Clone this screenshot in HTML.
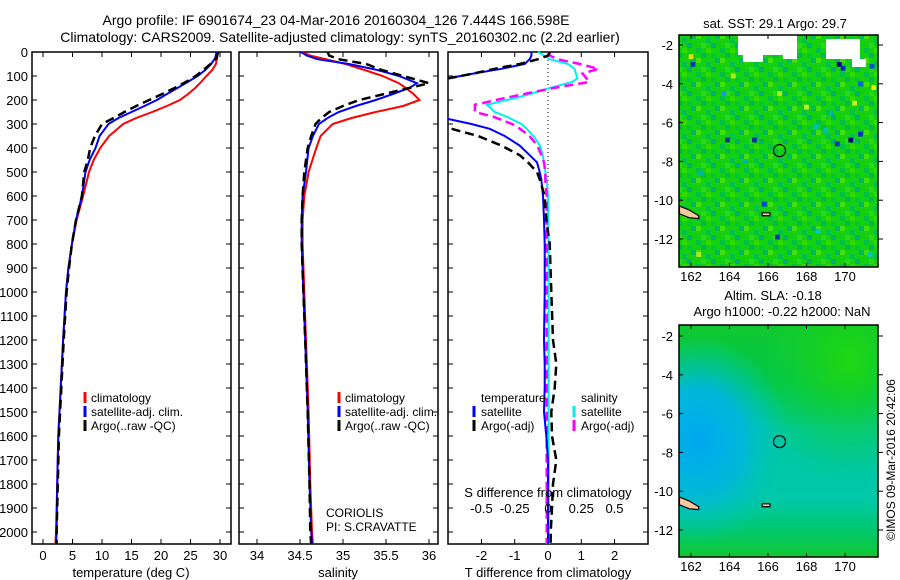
<!DOCTYPE html>
<html><head><meta charset="utf-8"><style>
body{margin:0;background:#fff;}
svg{display:block;font-family:"Liberation Sans",Arial,sans-serif;}
</style></head><body>
<svg id="chart" width="900" height="580" viewBox="0 0 900 580" xmlns="http://www.w3.org/2000/svg">
<defs>
<pattern id="sstTex" width="24" height="24" patternUnits="userSpaceOnUse">
<rect width="24" height="24" fill="#14d010"/>
<rect x="0" y="0" width="5" height="5" fill="#00c040"/><rect x="10" y="0" width="5" height="5" fill="#30dc00"/>
<rect x="5" y="5" width="5" height="5" fill="#00b858"/><rect x="15" y="5" width="5" height="5" fill="#00c838"/>
<rect x="0" y="10" width="5" height="5" fill="#40e010"/><rect x="19" y="10" width="5" height="5" fill="#00b860"/>
<rect x="10" y="14" width="5" height="5" fill="#00c048"/><rect x="5" y="19" width="5" height="5" fill="#28d818"/>
<rect x="15" y="19" width="5" height="5" fill="#00b070"/>
</pattern>
<linearGradient id="slaBand" x1="0" y1="0" x2="0" y2="1">
<stop offset="0" stop-color="#10c830"/><stop offset="0.25" stop-color="#00c850"/><stop offset="0.45" stop-color="#00c8a0"/><stop offset="0.75" stop-color="#00c8a8"/><stop offset="0.88" stop-color="#00c870"/><stop offset="1" stop-color="#10c830"/>
</linearGradient>
<radialGradient id="slaBlue" cx="0.1" cy="0.5" r="0.45">
<stop offset="0" stop-color="#00a8f0"/><stop offset="0.5" stop-color="#00b8d8"/><stop offset="1" stop-color="#00c8b0" stop-opacity="0"/>
</radialGradient>
<radialGradient id="slaGreen" cx="0.85" cy="0.15" r="0.5">
<stop offset="0" stop-color="#20d810"/><stop offset="1" stop-color="#10c830" stop-opacity="0"/>
</radialGradient>
<clipPath id="clipT"><rect x="32" y="44" width="199" height="500"/></clipPath>
<clipPath id="clipS"><rect x="239" y="44" width="199" height="500"/></clipPath>
<clipPath id="clipD"><rect x="448" y="44" width="200" height="500"/></clipPath>
<clipPath id="clipM1"><rect x="679" y="35" width="199" height="232"/></clipPath>
<clipPath id="clipM2"><rect x="679" y="325" width="199" height="232"/></clipPath>
</defs>
<text x="336" y="25" font-size="14" text-anchor="middle">Argo profile: IF 6901674_23 04-Mar-2016 20160304_126 7.444S 166.598E</text>
<text x="340" y="42" font-size="14" text-anchor="middle">Climatology: CARS2009. Satellite-adjusted climatology: synTS_20160302.nc (2.2d earlier)</text>
<g id="panels"></g>
<g id="maps"></g>
</svg>
<script>
// ---- profile data ----
const tDepths=[0,25,50,75,100,125,150,175,200,225,250,275,300,350,400,450,500,600,700,800,900,1000,1200,1400,1600,1800,2000,2050];
const tClim=[29.6,29.5,29.3,28.7,27.7,26.8,25.8,24.6,23.2,21.0,18.5,15.8,13.6,11.2,9.7,8.6,7.8,6.8,5.7,4.9,4.3,3.9,3.4,3.0,2.6,2.4,2.2,2.1];
const tSat=[29.4,29.2,28.5,27.5,26.2,24.5,22.8,21.0,19.3,17.2,15.0,12.8,11.1,9.6,8.9,7.9,7.2,6.6,5.6,4.9,4.3,3.9,3.4,3.0,2.6,2.4,2.3,2.2];
const tArgo=[29.7,29.4,28.4,27.2,25.9,24.2,22.3,20.2,18.0,15.8,13.8,12.0,10.0,8.8,8.0,7.6,7.0,6.6,5.6,4.9,4.4,4.0,3.5,3.1,2.7,2.5,2.3,2.3];
const sDepths=[0,15,30,50,75,100,130,150,175,200,225,250,275,300,350,400,500,600,700,800,1000,1200,1500,1800,2000,2050];
const sClim=[34.52,34.62,34.8,35.03,35.25,35.46,35.65,35.73,35.82,35.89,35.7,35.38,35.1,34.88,34.74,34.69,34.6,34.55,34.53,34.53,34.55,34.57,34.6,34.62,34.64,34.65];
const sSat=[34.51,34.58,34.7,35.07,35.4,35.65,35.86,35.77,35.58,35.38,35.15,34.95,34.82,34.72,34.65,34.6,34.57,34.53,34.52,34.52,34.54,34.56,34.59,34.61,34.63,34.64];
const sArgo=[34.82,34.84,34.95,35.27,35.45,35.7,36.0,35.77,35.48,35.19,35.0,34.84,34.75,34.68,34.63,34.59,34.55,34.53,34.52,34.52,34.54,34.56,34.59,34.61,34.62,34.63];
const dDepths=[0,15,30,50,70,90,110,125,150,190,220,250,270,300,320,350,390,430,460,500,530,600,700,800,1000,1200,1300,1400,1500,1600,1700,1800,1900,2000,2050];
const dTSat=[-0.5,-0.5,-0.55,-0.7,-1.4,-2.25,-3.0,-3.5,-3.5,-3.5,-3.5,-3.5,-3.3,-2.3,-1.75,-1.3,-0.85,-0.55,-0.33,-0.25,-0.2,-0.15,-0.12,-0.1,-0.1,-0.12,-0.1,-0.1,-0.12,-0.05,0,0,0,0,0];
const dTArgo=[0.06,0.0,-0.3,-0.85,-1.6,-2.25,-3.0,-3.5,-3.5,-3.5,-3.5,-3.5,-3.5,-3.2,-2.9,-2.1,-1.4,-0.85,-0.6,-0.33,-0.25,-0.1,-0.05,0.05,0.1,0.15,0.25,0.2,0.1,0.12,0.25,0.15,0.12,0.08,0.08];
const dSSat=[-0.075,-0.03,0.015,0.15,0.2,0.21,0.22,0.18,0.015,-0.23,-0.46,-0.4,-0.31,-0.2,-0.16,-0.11,-0.06,-0.04,-0.03,-0.02,-0.01,0,0,0.005,0.005,0.005,0.005,0.005,0.005,0.005,0.005,0.005,0.005,0.005,0.005];
const dSArgo=[0.0,0.015,0.07,0.24,0.38,0.26,0.29,0.31,0.04,-0.31,-0.55,-0.55,-0.41,-0.27,-0.21,-0.14,-0.08,-0.05,-0.03,-0.02,-0.02,-0.01,-0.01,-0.01,-0.01,-0.01,-0.01,-0.01,-0.01,-0.01,-0.01,-0.01,-0.01,-0.01,-0.01];
const depthTicks=[0,100,200,300,400,500,600,700,800,900,1000,1100,1200,1300,1400,1500,1600,1700,1800,1900,2000];
const tTicks=[0,5,10,15,20,25,30];
const sTicks=[34,34.5,35,35.5,36];
const dTTicks=[-2,-1,0,1,2];
const dSTicks=[-0.5,-0.25,0,0.25,0.5];
const sSTLabels=["-0.5","-0.25","0","0.25","0.5"];
// ---- map data ----
const lonTicks=[162,164,166,168,170];
const latTicks=[-2,-4,-6,-8,-10,-12];
const argoLon=166.598, argoLat=-7.444;
const sstSpots=[[169.7,-3.0,"#000080"],[169.9,-3.2,"#0030c0"],[170.8,-4.0,"#0060e0"],[171.4,-3.1,"#0050e0"],[170.3,-6.9,"#000080"],[170.8,-6.6,"#0030c0"],[163.9,-6.9,"#0030a0"],[165.3,-6.9,"#0030a0"],[162.1,-3.0,"#0030c0"],[163.7,-4.5,"#2090f0"],[169.6,-7.1,"#0030c0"],[165.8,-10.2,"#0040d0"],[166.5,-11.9,"#0030b0"],[162.0,-2.6,"#e0e000"],[170.5,-5.0,"#c8f020"],[171.5,-4.2,"#e0f000"],[164.2,-3.6,"#b0e820"],[166.6,-4.5,"#b0e820"],[168.0,-5.2,"#c0f020"],[162.4,-12.8,"#b0e820"],[171.3,-12.8,"#00c8c0"],[168.6,-11.6,"#00c8c0"],[169.3,-5.5,"#00b8a0"],[168.5,-6.2,"#00c0b0"],[169.0,-6.4,"#00c0b0"],[162.5,-8.6,"#00b8a0"],[164.8,-8.0,"#00b8a0"]];
const islands=[[[161.4,-10.3],[161.9,-10.5],[162.4,-10.8],[162.4,-10.95],[161.9,-10.9],[161.4,-10.7]],[[165.7,-10.65],[166.1,-10.65],[166.1,-10.8],[165.7,-10.8]]];

const NS="http://www.w3.org/2000/svg";
function mk(tag,attrs,parent){const e=document.createElementNS(NS,tag);for(const k in attrs)e.setAttribute(k,attrs[k]);parent.appendChild(e);return e;}
const yD=d=>52+d*0.24;
const xT=v=>43+v*5.9;
const xS=v=>257+(v-34)*86;
const xDT=v=>548+v*33.3;
const xDS=v=>548+v*133;
const panels=document.getElementById('panels');

function box(x0,x1,name){
  const r=mk('rect',{x:x0,y:52,width:x1-x0,height:492,fill:'none',stroke:'#000','stroke-width':1.5},panels);
  
  
  depthTicks.forEach(d=>{mk('line',{x1:x0,x2:x0+5,y1:yD(d),y2:yD(d),stroke:'#000'},panels);mk('line',{x1:x1,x2:x1-5,y1:yD(d),y2:yD(d),stroke:'#000'},panels);});
}
function xticks(vals,fx,labels,name,ly){
  vals.forEach((v,i)=>{const x=fx(v);
    mk('line',{x1:x,x2:x,y1:52,y2:57,stroke:'#000'},panels);
    mk('line',{x1:x,x2:x,y1:544,y2:539,stroke:'#000'},panels);
    const t=mk('text',{x:x,y:ly,'font-size':13,'text-anchor':'middle'},panels);t.textContent=labels?labels[i]:String(v);
    
    
  });
}
function line(ds,vs,fx,color,dashed,clip,name){
  const pts=ds.map((d,i)=>fx(vs[i]).toFixed(1)+','+yD(d).toFixed(1)).join(' ');
  const p=mk('polyline',{points:pts,fill:'none',stroke:color,'stroke-width':dashed?2.5:2,'clip-path':'url(#'+clip+')'},panels);
  if(dashed)p.setAttribute('stroke-dasharray','9,5');
  
  
}
function txt(x,y,s,name,anchor,size){const t=mk('text',{x:x,y:y,'font-size':size||13,'text-anchor':anchor||'start'},panels);t.textContent=s;
  
  return t;}
function legMark(x,y,color){const l=mk('line',{x1:x,x2:x,y1:y-10,y2:y+1,stroke:color,'stroke-width':3},panels);
  
  }

// panel 1
box(32,231,'temperature-panel');
depthTicks.forEach(d=>{txt(28,yD(d)+5,String(d),'depth-tick-label','end');});
xticks(tTicks,xT,null,'temperature-tick-label',560);
txt(131,577,'temperature (deg C)','temperature-axis-title','middle');
line(tDepths,tClim,xT,'#ff0000',false,'clipT','temperature-climatology-line');
line(tDepths,tSat,xT,'#0000ff',false,'clipT','temperature-satellite-line');
line(tDepths,tArgo,xT,'#000000',true,'clipT','temperature-argo-line');
[['#ff0000','climatology'],['#0000ff','satellite-adj. clim.'],['#000000','Argo(..raw -QC)']].forEach((e,i)=>{legMark(85,402+i*14,e[0]);txt(91,402+i*14,e[1],'temperature-legend-entry','start',12);});

// panel 2
box(239,438,'salinity-panel');
xticks(sTicks,xS,null,'salinity-tick-label',560);
txt(338,577,'salinity','salinity-axis-title','middle');
line(sDepths,sClim,xS,'#ff0000',false,'clipS','salinity-climatology-line');
line(sDepths,sSat,xS,'#0000ff',false,'clipS','salinity-satellite-line');
line(sDepths,sArgo,xS,'#000000',true,'clipS','salinity-argo-line');
[['#ff0000','climatology'],['#0000ff','satellite-adj. clim.'],['#000000','Argo(..raw -QC)']].forEach((e,i)=>{legMark(339,402+i*14,e[0]);txt(345,402+i*14,e[1],'salinity-legend-entry','start',12);});
txt(326,517,'CORIOLIS','data-centre-label','start',12);
txt(326,531,'PI: S.CRAVATTE','pi-label','start',12);

// panel 3
box(448,648,'difference-panel');
mk('line',{x1:548,x2:548,y1:52,y2:544,stroke:'#000','stroke-dasharray':'1,3'},panels);
xticks(dTTicks,xDT,null,'t-difference-tick-label',560);
line(dDepths,dSSat,xDS,'#00f0f0',false,'clipD','salinity-diff-satellite-line');
line(dDepths,dSArgo,xDS,'#ff00ff',true,'clipD','salinity-diff-argo-line');
line(dDepths,dTSat,xDT,'#0000ff',false,'clipD','temperature-diff-satellite-line');
line(dDepths,dTArgo,xDT,'#000000',true,'clipD','temperature-diff-argo-line');
dSTicks.forEach((v,i)=>{txt(xDS(v),513,sSTLabels[i],'s-difference-tick-label','middle');});
txt(548,497,'S difference from climatology','s-difference-axis-title','middle');
txt(548,577,'T difference from climatology','t-difference-axis-title','middle');
txt(481,402,'temperature','diff-legend-temperature-header','start',12);
txt(581,402,'salinity','diff-legend-salinity-header','start',12);
legMark(474,416,'#0000ff');txt(481,416,'satellite','diff-legend-entry','start',12);
legMark(474,430,'#000000');txt(481,430,'Argo(-adj)','diff-legend-entry','start',12);
legMark(574,416,'#00f0f0');txt(581,416,'satellite','diff-legend-entry','start',12);
legMark(574,430,'#ff00ff');txt(581,430,'Argo(-adj)','diff-legend-entry','start',12);

// ---- maps ----
const maps=document.getElementById('maps');
const mx=lon=>691+(lon-162)*19.25;
function mapFrame(clip,name){
  const g=mk('g',{'clip-path':'url(#'+clip+')'},maps);
  
  
  return g;
}
function mapAxes(top,latY,lonLabY,pfx){
  mk('rect',{x:679,y:top,width:199,height:232,fill:'none',stroke:'#000','stroke-width':1.5},maps);
  lonTicks.forEach(l=>{const x=mx(l);mk('line',{x1:x,x2:x,y1:top,y2:top+4,stroke:'#000'},maps);mk('line',{x1:x,x2:x,y1:top+232,y2:top+228,stroke:'#000'},maps);
    const t=mk('text',{x:x,y:lonLabY,'font-size':13,'text-anchor':'middle'},maps);t.textContent=String(l);
    
    });
  latTicks.forEach(l=>{const y=latY(l);mk('line',{x1:679,x2:683,y1:y,y2:y,stroke:'#000'},maps);mk('line',{x1:878,x2:883,y1:y,y2:y,stroke:'#000'},maps);
    const t=mk('text',{x:673,y:y+5,'font-size':13,'text-anchor':'end'},maps);t.textContent=String(l);
    
    });
}
function drawIslands(g,latY){
  islands.forEach(poly=>{const p=mk('polygon',{points:poly.map(q=>mx(q[0])+','+latY(q[1])).join(' '),fill:'#f8c8a0',stroke:'#000','stroke-width':1.2},g);
    
    });
}
function argoMarker(g,latY){const c=mk('circle',{cx:mx(argoLon),cy:latY(argoLat),r:6,fill:'none',stroke:'#000','stroke-width':1.2},g);
  
  }

// map 1 SST
const lat1=l=>45+(-2-l)*19.4;
const g1=mapFrame('clipM1','sst-map');
mk('rect',{x:679,y:35,width:199,height:232,fill:'url(#sstTex)'},g1);
sstSpots.forEach(s=>{const r=mk('rect',{x:mx(s[0])-2.4,y:lat1(s[1])-2.4,width:4.8,height:4.8,fill:s[2]},g1);
  
  });
mk('rect',{x:738,y:35,width:47,height:20,fill:'#fff'},g1);
mk('rect',{x:743,y:55,width:20,height:7,fill:'#fff'},g1);
mk('rect',{x:783,y:35,width:14,height:24,fill:'#fff'},g1);
mk('rect',{x:826,y:39,width:34,height:20,fill:'#fff'},g1);
mk('rect',{x:852,y:59,width:14,height:8,fill:'#fff'},g1);
drawIslands(g1,lat1);argoMarker(g1,lat1);
mapAxes(35,lat1,281,'sst-map');
let t=mk('text',{x:775,y:28,'font-size':13,'text-anchor':'middle'},maps);t.textContent='sat. SST: 29.1  Argo: 29.7';



// map 2 SLA
const lat2=l=>336+(-2-l)*19.4;
const g2=mapFrame('clipM2','sla-map');
mk('rect',{x:679,y:325,width:199,height:232,fill:'url(#slaBand)'},g2);
mk('rect',{x:679,y:325,width:199,height:232,fill:'url(#slaGreen)'},g2);
mk('rect',{x:679,y:325,width:199,height:232,fill:'url(#slaBlue)'},g2);
drawIslands(g2,lat2);argoMarker(g2,lat2);
mapAxes(325,lat2,571,'sla-map');
t=mk('text',{x:773,y:300,'font-size':13,'text-anchor':'middle'},maps);t.textContent='Altim. SLA: -0.18';


t=mk('text',{x:782,y:316,'font-size':13,'text-anchor':'middle'},maps);t.textContent='Argo h1000: -0.22 h2000: NaN';


t=mk('text',{x:0,y:0,'font-size':12,'text-anchor':'middle',transform:'translate(895,460) rotate(-90)'},maps);t.textContent='©IMOS 09-Mar-2016 20:42:06';


</script>
</body></html>
